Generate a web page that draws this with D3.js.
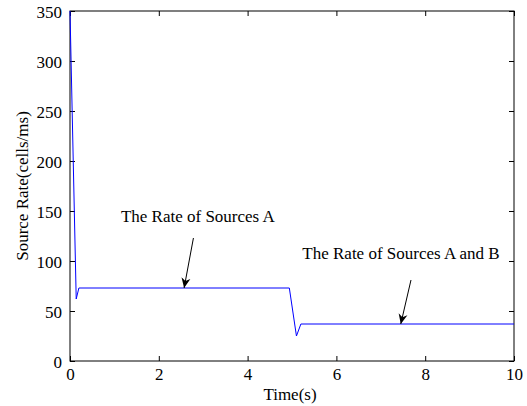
<!DOCTYPE html>
<html><head><meta charset="utf-8">
<script src="https://cdn.jsdelivr.net/npm/d3@7"></script>
<style>body{margin:0;background:#fff;} text{font-family:"Liberation Serif","Times New Roman",serif;}</style>
</head><body>
<svg id="c" width="527" height="406"></svg>
<script>
const times = [0, 0.14, 0.2, 4.94, 5.1, 5.2, 10];
const rates = [350, 62, 73, 73, 25, 37, 37];
const xTicks = [0, 2, 4, 6, 8, 10];
const yTicks = [0, 50, 100, 150, 200, 250, 300, 350];
const labels = ["The Rate of Sources A", "The Rate of Sources A and B"];
const labelPos = [[2.88, 139], [7.455, 102.5]];
const arrows = [[[2.78, 123], [2.57, 73]], [[7.68, 81], [7.45, 37]]];

(function () {
const svg = d3.select("#c");
const L = 70, T = 11, W = 444, H = 350;
const x = d3.scaleLinear().domain([0, 10]).range([L, L + W]);
const y = d3.scaleLinear().domain([0, 350]).range([T + H, T]);
const fs = 17;

svg.append("defs").append("marker").attr("id", "ah")
  .attr("viewBox", "0 0 10 10").attr("refX", 10).attr("refY", 5)
  .attr("markerWidth", 10).attr("markerHeight", 10).attr("markerUnits", "userSpaceOnUse")
  .attr("orient", "auto")
  .append("path").attr("d", "M0,0.5 L10,5 L0,9.5 L3,5 Z").attr("fill", "#000");

const g = svg.append("g");
g.append("rect").attr("x", L).attr("y", T).attr("width", W).attr("height", H)
  .attr("fill", "none").attr("stroke", "#000").attr("stroke-width", 1);

const tl = 5;
const axB = g.append("g").attr("transform", `translate(0,${T + H})`)
  .call(d3.axisBottom(x).tickValues(xTicks).tickSize(-tl).tickPadding(8).tickFormat(d3.format("d")));
const axT = g.append("g").attr("transform", `translate(0,${T})`)
  .call(d3.axisTop(x).tickValues(xTicks).tickSize(-tl).tickFormat(""));
const axL = g.append("g").attr("transform", `translate(${L},0)`)
  .call(d3.axisLeft(y).tickValues(yTicks).tickSize(-tl).tickPadding(8).tickFormat(d3.format("d")));
const axR = g.append("g").attr("transform", `translate(${L + W},0)`)
  .call(d3.axisRight(y).tickValues(yTicks).tickSize(-tl).tickFormat(""));
[axB, axT, axL, axR].forEach(a => {
  a.select(".domain").remove();
  a.selectAll("text").attr("font-size", fs).attr("fill", "#000")
    .style("font-family", '"Liberation Serif","Times New Roman",serif');
  a.selectAll("line").attr("stroke", "#000");
});
axL.selectAll("text").attr("dy", "0.4em");
axB.selectAll("text").attr("dy", "0.65em");

const pts = times.map((t, i) => [t, rates[i]]);
g.append("path").datum(pts)
  .attr("d", d3.line().x(d => x(d[0])).y(d => y(d[1])))
  .attr("fill", "none").attr("stroke", "#0000ff").attr("stroke-width", 1);

labels.forEach((s, i) => {
  g.append("text").attr("x", x(labelPos[i][0])).attr("y", y(labelPos[i][1]))
    .attr("text-anchor", "middle").attr("font-size", fs).attr("fill", "#000").text(s);
  const a = arrows[i];
  g.append("line").attr("x1", x(a[0][0])).attr("y1", y(a[0][1]))
    .attr("x2", x(a[1][0])).attr("y2", y(a[1][1]))
    .attr("stroke", "#000").attr("stroke-width", 1).attr("marker-end", "url(#ah)");
});

g.append("text").attr("x", L + W / 2 - 2).attr("y", 400).attr("text-anchor", "middle")
  .attr("font-size", fs).text("Time(s)");
g.append("text").attr("transform", `translate(28,${T + H / 2}) rotate(-90)`)
  .attr("text-anchor", "middle").attr("font-size", fs).text("Source Rate(cells/ms)");
})();
</script>
</body></html>
